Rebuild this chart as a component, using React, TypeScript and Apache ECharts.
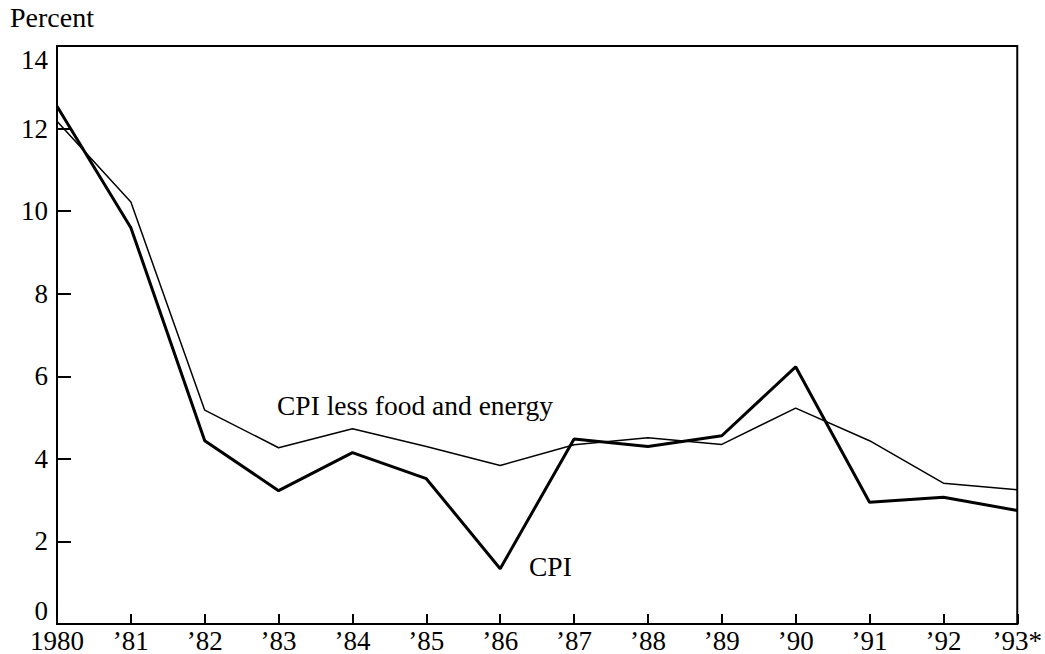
import React, { useEffect, useRef } from "react";
import * as echarts from "echarts";

const years = ["1980", "’81", "’82", "’83", "’84", "’85", "’86", "’87", "’88", "’89", "’90", "’91", "’92", "’93*"];
const cpi = [12.54, 9.6, 4.44, 3.23, 4.15, 3.52, 1.34, 4.48, 4.3, 4.56, 6.23, 2.95, 3.07, 2.75];
const coreCpi = [12.18, 10.22, 5.18, 4.27, 4.73, 4.3, 3.84, 4.34, 4.51, 4.35, 5.23, 4.44, 3.41, 3.25];
const yTicks = [0, 14, 2];

const FONT = "Liberation Serif";

export default function App() {
  const ref = useRef<HTMLDivElement>(null);
  useEffect(() => {
    if (!ref.current) return;
    const chart = echarts.init(ref.current, null, { renderer: "svg" });
    chart.setOption({
      animation: false,
      backgroundColor: "#fff",
      textStyle: { fontFamily: FONT },
      grid: {
        left: 57,
        right: 24,
        top: 46,
        bottom: 29,
        show: true,
        borderColor: "#000",
        borderWidth: 2,
        backgroundColor: "transparent",
      },
      xAxis: {
        type: "category",
        data: years,
        boundaryGap: false,
        axisLine: { lineStyle: { color: "#000", width: 2 } },
        axisTick: { inside: true, length: 10, lineStyle: { color: "#000", width: 2 } },
        axisLabel: {
          color: "#000",
          fontFamily: FONT,
          fontSize: 27,
          margin: 3,
          interval: 0,
          showMinLabel: true,
          showMaxLabel: true,
        },
        splitLine: { show: false },
      },
      yAxis: {
        type: "value",
        min: yTicks[0],
        max: yTicks[1],
        interval: yTicks[2],
        axisLine: { show: true, lineStyle: { color: "#000", width: 2 } },
        axisTick: { show: true, inside: true, length: 14, lineStyle: { color: "#000", width: 2 } },
        axisLabel: {
          color: "#000",
          fontFamily: FONT,
          fontSize: 27,
          margin: 9,
          verticalAlignMinLabel: "bottom",
          verticalAlignMaxLabel: "top",
        },
        splitLine: { show: false },
      },
      series: [
        {
          type: "line",
          name: "CPI less food and energy",
          data: coreCpi,
          symbol: "none",
          lineStyle: { color: "#000", width: 1.5 },
          z: 2,
        },
        {
          type: "line",
          name: "CPI",
          data: cpi,
          symbol: "none",
          lineStyle: { color: "#000", width: 3 },
          z: 3,
        },
      ],
      graphic: [
        {
          type: "text",
          left: 10,
          top: 3,
          style: { text: "Percent", fill: "#000", font: `28px '${FONT}'` },
        },
        {
          type: "text",
          left: 277,
          top: 391,
          style: { text: "CPI less food and energy", fill: "#000", font: `27.5px '${FONT}'` },
        },
        {
          type: "text",
          left: 529,
          top: 552,
          style: { text: "CPI", fill: "#000", font: `27.5px '${FONT}'` },
        },
      ],
    });
    return () => chart.dispose();
  }, []);
  return (
    <div
      ref={ref}
      style={{ position: "fixed", left: 0, top: 0, width: 1045, height: 654, background: "#fff" }}
    />
  );
}
